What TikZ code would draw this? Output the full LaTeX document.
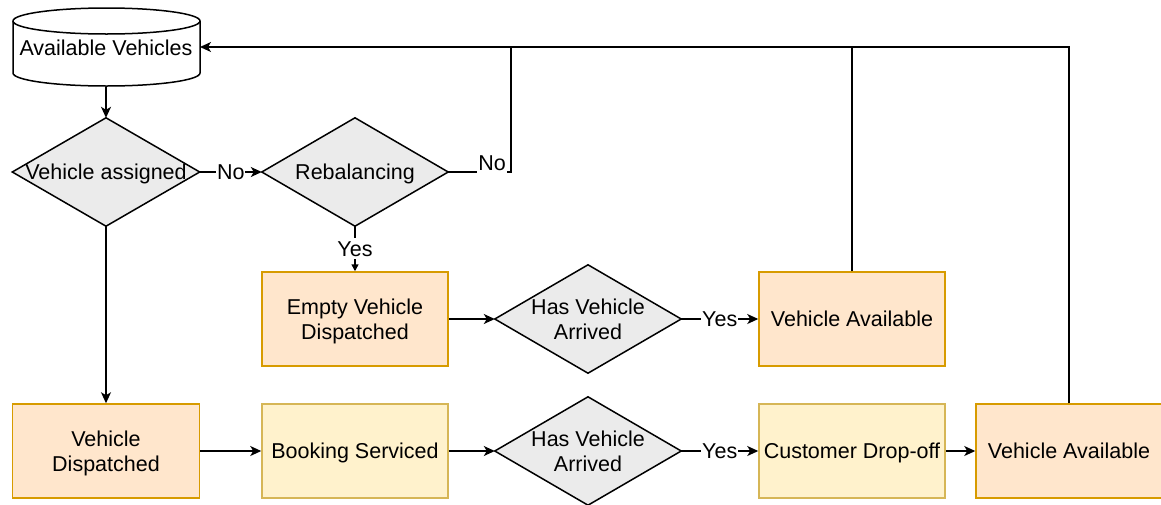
\documentclass[tikz,border=0pt]{standalone}
\usepackage{fontspec}
\setmainfont{Liberation Sans}
\usetikzlibrary{arrows.meta,backgrounds}
\definecolor{orangefill}{HTML}{FFE6CC}
\definecolor{orangeline}{HTML}{D79B00}
\definecolor{yellowfill}{HTML}{FFF2CC}
\definecolor{yellowline}{HTML}{D6B656}
\definecolor{decisionfill}{HTML}{EBEBEB}
\begin{document}
\begin{tikzpicture}[x=1pt,y=1pt,
  font=\fontsize{21.5}{24.5}\selectfont,
  stateO/.style={rectangle, draw=orangeline, fill=orangefill, line width=1.5pt,
    minimum width=186, minimum height=94, align=center, inner sep=2pt, text depth=0pt},
  stateY/.style={rectangle, draw=yellowline, fill=yellowfill, line width=1.5pt,
    minimum width=186, minimum height=94, align=center, inner sep=2pt, text depth=0pt},
  decision/.style={rectangle, minimum width=186, minimum height=108,
    align=center, inner sep=0pt, text depth=0pt},
  link/.style={line width=1.5pt, -{Stealth[length=11pt,width=10pt,inset=3pt]}},
  plain/.style={line width=1.5pt},
  tag/.style={fill=white, inner xsep=1pt, inner ysep=3pt}]
\useasboundingbox (0,0) rectangle (1161,-504);

% store cylinder
\draw[fill=white, line width=1.5pt] (13,-21) -- (13,-73)
  arc[start angle=180, end angle=360, x radius=93.5, y radius=13] -- (200,-21)
  arc[start angle=0, end angle=180, x radius=93.5, y radius=13] -- cycle;
\draw[line width=1.5pt] (13,-21) arc[start angle=180, end angle=360, x radius=93.5, y radius=13];
\node[minimum width=187, minimum height=78, inner sep=0pt] (av) at (106,-48) {Available Vehicles};

% decisions
\node[decision, minimum width=187] (va) at (106,-172) {Vehicle assigned};
\node[decision] (reb)  at (355,-172)   {Rebalancing};
\node[decision] (hva1) at (588,-319)   {Has Vehicle\\Arrived};
\node[decision] (hva2) at (588,-451)   {Has Vehicle\\Arrived};

% states
\node[stateO] (evd)  at (355,-319)  {Empty Vehicle\\Dispatched};
\node[stateO] (vav1) at (852,-319)  {Vehicle Available};
\node[stateO, minimum width=187] (vd) at (106,-451) {Vehicle\\Dispatched};
\node[stateY] (bs)   at (355,-451)  {Booking Serviced};
\node[stateY] (cdo)  at (852,-451)  {Customer Drop-off};
\node[stateO] (vav2) at (1069,-451) {Vehicle Available};

% return junctions on the top line
\coordinate (jr) at (511,-47);
\coordinate (jv) at (852,-47);
\coordinate (ret) at (200,-47);

\begin{scope}[on background layer]
  \fill[white] (0,0) rectangle (1161,-504);
  \foreach \n in {va,reb,hva1,hva2}
    \filldraw[fill=decisionfill, draw=black, line width=1.5pt]
      (\n.west) -- (\n.north) -- (\n.east) -- (\n.south) -- cycle;
\end{scope}

% connectors
\draw[link] (av.south) -- (va.north);
\draw[link] (va.east) -- node[tag] {No} (reb.west);
\draw[plain] (reb.east) -| (jr);
\node[fill=white, inner xsep=1pt, inner ysep=0pt, text depth=3pt, anchor=base] at (492,-170) {No};
\draw[line width=1.5pt, -{Triangle[length=7pt,width=7pt]}] (reb.south) -- node[tag] {Yes} (evd.north);
\draw[link] (evd.east) -- (hva1.west);
\draw[link] (hva1.east) -- node[tag] {Yes} (vav1.west);
\draw[plain] (vav1.north) -- (jv);
\draw[link] (vav2.north) |- (ret);
\draw[link] (va.south) -- (vd.north);
\draw[link] (vd.east) -- (bs.west);
\draw[link] (bs.east) -- (hva2.west);
\draw[link] (hva2.east) -- node[tag] {Yes} (cdo.west);
\draw[link] (cdo.east) -- (vav2.west);
\end{tikzpicture}
\end{document}
